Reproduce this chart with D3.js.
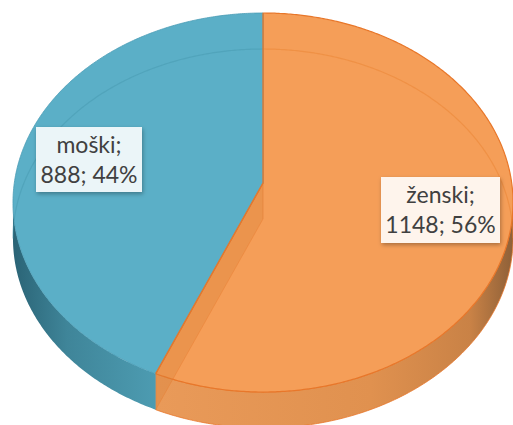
<!DOCTYPE html>
<html>
<head>
<meta charset="utf-8">
<script src="https://cdn.jsdelivr.net/npm/d3@7/dist/d3.min.js"></script>
<style>
  html, body { margin: 0; padding: 0; background: #ffffff; }
  svg { display: block; }
</style>
</head>
<body>
<svg id="chart" width="513" height="425"></svg>
<script>
// ---- data ----
const categories = ["ženski", "moški"];
const values = [1148, 888];
const topColors = ["#F59E58", "#5BAFC7"];
const edgeColors = ["#E8772A", "#4A9CB5"];
const labelFills = ["#FEF4EC", "#EBF5F8"];

// ---- layout ----
const W = 513, H = 425;
const CX = 263, CY = 183;       // projected pie centre (vertex)
const A = 248.7, B = 187.5;     // radii of projection
const K = 0.103;                // perspective factor
const DEPTH = 36;               // thickness in px

const svg = d3.select("#chart");
const defs = svg.append("defs");

const total = d3.sum(values);
const data = categories.map((c, i) => ({ name: c, value: values[i], i }));
const pie = d3.pie().sort(null).value(d => d.value);
const arcs = pie(data);

function P(theta, z) {
  const c = Math.cos(theta), s = Math.sin(theta), w = 1 + K * c;
  return [CX + A * s / w, CY - B * c / w + z];
}
function samples(a0, a1) {
  const n = Math.max(2, Math.ceil(Math.abs(a1 - a0) / (Math.PI / 360)));
  return d3.range(n + 1).map(j => a0 + (a1 - a0) * j / n);
}
const line = d3.line();
const visA = Math.acos(-K), visB = 2 * Math.PI - Math.acos(-K);

// gradients for the side walls
const gBlue = defs.append("linearGradient").attr("id", "gside1")
  .attr("gradientUnits", "userSpaceOnUse").attr("x1", 12).attr("x2", 170).attr("y1", 0).attr("y2", 0);
gBlue.append("stop").attr("offset", 0).attr("stop-color", "#2A6375");
gBlue.append("stop").attr("offset", 0.35).attr("stop-color", "#3F8599");
gBlue.append("stop").attr("offset", 1).attr("stop-color", "#4F9FB5");
const gOr = defs.append("linearGradient").attr("id", "gside0")
  .attr("gradientUnits", "userSpaceOnUse").attr("x1", 157).attr("x2", 513).attr("y1", 0).attr("y2", 0);
gOr.append("stop").attr("offset", 0).attr("stop-color", "#E99A59");
gOr.append("stop").attr("offset", 0.6).attr("stop-color", "#E0914F");
gOr.append("stop").attr("offset", 0.88).attr("stop-color", "#C98246");
gOr.append("stop").attr("offset", 1).attr("stop-color", "#8E6038");

const shadow = defs.append("filter").attr("id", "shadow")
  .attr("x", "-20%").attr("y", "-20%").attr("width", "140%").attr("height", "150%");
shadow.append("feDropShadow").attr("dx", 1).attr("dy", 2).attr("stdDeviation", 2)
  .attr("flood-color", "#000").attr("flood-opacity", 0.3);

// ---- side walls (front part) ----
const gSides = svg.append("g");
arcs.forEach(a => {
  const a0 = Math.max(a.startAngle, visA), a1 = Math.min(a.endAngle, visB);
  if (a1 <= a0) return;
  const top = samples(a0, a1).map(t => P(t, 0));
  const bot = samples(a1, a0).map(t => P(t, DEPTH));
  gSides.append("path")
    .attr("d", line(top.concat(bot)) + "Z")
    .attr("fill", `url(#gside${a.data.i})`)
    .attr("stroke", a.data.i === 0 ? "#E8772A" : "none")
    .attr("stroke-width", 1)
    .attr("stroke-opacity", 0.8);
});

// ---- top faces ----
const gTop = svg.append("g");
arcs.forEach(a => {
  const pts = [[CX, CY]].concat(samples(a.startAngle, a.endAngle).map(t => P(t, 0)));
  gTop.append("path")
    .attr("d", line(pts) + "Z")
    .attr("fill", topColors[a.data.i])
    .attr("stroke", edgeColors[a.data.i])
    .attr("stroke-width", a.data.i === 0 ? 1.2 : 0.8)
    .attr("stroke-linejoin", "round");
});

// ---- back edge of the bottom face, seen through ----
arcs.forEach(a => {
  const ranges = [[Math.max(a.startAngle, 0), Math.min(a.endAngle, visA)],
                  [Math.max(a.startAngle, visB), Math.min(a.endAngle, 2 * Math.PI)]];
  ranges.forEach(([r0, r1]) => {
    if (r1 <= r0) return;
    svg.append("path")
      .attr("d", line(samples(r0, r1).map(t => P(t, DEPTH))))
      .attr("fill", "none")
      .attr("stroke", a.data.i === 0 ? "#E8812F" : "#4596AE")
      .attr("stroke-opacity", 0.45)
      .attr("stroke-width", 1.2);
  });
});

// ---- radial wall of the front slice at the boundary, seen through ----
const bAng = arcs[0].endAngle;
const wallPts = [[CX, CY], P(bAng, 0), P(bAng, DEPTH), [CX, CY + DEPTH]];
svg.append("path")
  .attr("d", line(wallPts) + "Z")
  .attr("fill", "#D9813A")
  .attr("fill-opacity", 0.35);
svg.append("path")
  .attr("d", line([[CX, CY], [CX, CY + DEPTH]]))
  .attr("stroke", "#E07A30").attr("stroke-opacity", 0.5).attr("stroke-width", 1);
svg.append("path")
  .attr("d", line([[CX, CY + DEPTH], P(bAng, DEPTH)]))
  .attr("stroke", "#E8772A").attr("stroke-opacity", 0.35).attr("stroke-width", 1);
// re-stroke boundary line
svg.append("path")
  .attr("d", line([[CX, CY], P(bAng, 0)]))
  .attr("stroke", "#E8772A").attr("stroke-width", 1.4);
svg.append("path")
  .attr("d", line([[CX, CY], P(0, 0)]))
  .attr("stroke", "#E8772A").attr("stroke-width", 1.2);

// ---- labels ----
const labelBoxes = [
  { x: 381, y: 177, w: 119, h: 66 },
  { x: 36, y: 127, w: 106, h: 65 }
];
arcs.forEach(a => {
  const i = a.data.i, b = labelBoxes[i];
  const pct = Math.round(a.data.value / total * 100);
  const g = svg.append("g");
  g.append("rect")
    .attr("x", b.x).attr("y", b.y).attr("width", b.w).attr("height", b.h)
    .attr("fill", labelFills[i]).attr("filter", "url(#shadow)");
  const t = g.append("text")
    .attr("text-anchor", "middle")
    .attr("font-family", "Lato, 'Open Sans', sans-serif")
    .attr("font-size", 23)
    .attr("fill", "#404040");
  t.append("tspan").attr("x", b.x + b.w / 2).attr("y", b.y + 26).text(a.data.name + ";");
  t.append("tspan").attr("x", b.x + b.w / 2).attr("y", b.y + 56)
    .text(`${a.data.value}; ${pct}%`);
});
</script>
</body>
</html>
